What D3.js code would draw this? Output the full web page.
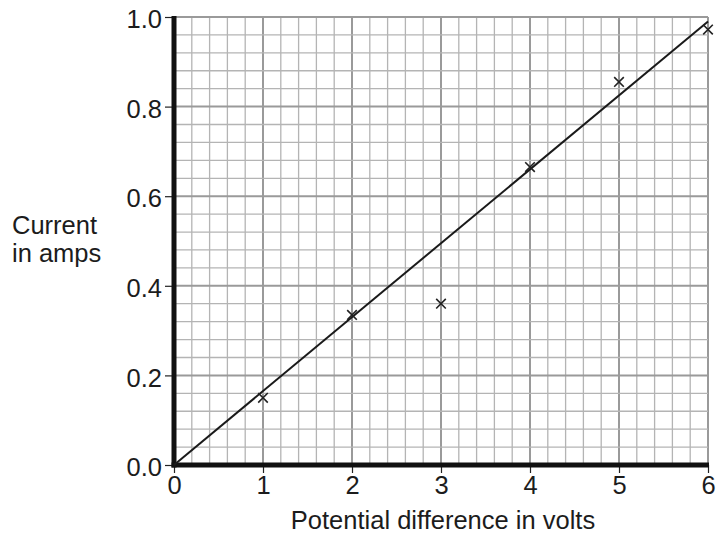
<!DOCTYPE html>
<html><head><meta charset="utf-8">
<script src="https://cdn.jsdelivr.net/npm/d3@7"></script>
<style>body{margin:0;background:#fff}svg{display:block}text{font-family:"Liberation Sans",Arial,sans-serif;fill:#1c1c1c}</style>
</head><body>
<script>
const voltage = [1, 2, 3, 4, 5, 6];
const current = [0.15, 0.335, 0.36, 0.665, 0.855, 0.972];
const xTicks = [0, 1, 2, 3, 4, 5, 6];
const yTicks = [0.0, 0.2, 0.4, 0.6, 0.8, 1.0];
const fitLine = [[0, 0], [6, 0.99]];
const xTitle = "Potential difference in volts";
const yTitle = ["Current", "in amps"];

const W = 718, H = 536;
const FS = "25.5px";
const svg = d3.select("body").append("svg").attr("width", W).attr("height", H);
const x = d3.scaleLinear().domain([0, 6]).range([174, 708]);
const y = d3.scaleLinear().domain([0, 1]).range([465, 17]);

const g = svg.append("g");
const xMinor = d3.range(0, 31).map(i => i * 0.2);
const yMinor = d3.range(0, 26).map(i => i * 0.04);
g.selectAll("line.vx").data(xMinor).join("line")
  .attr("x1", d => x(d)).attr("x2", d => x(d)).attr("y1", y(0)).attr("y2", y(1))
  .attr("stroke", (d, i) => i % 5 === 0 ? "#9a9a9a" : "#b4b4b4")
  .attr("stroke-width", (d, i) => i % 5 === 0 ? 2 : 1.3);
g.selectAll("line.hy").data(yMinor).join("line")
  .attr("x1", x(0)).attr("x2", x(6)).attr("y1", d => y(d)).attr("y2", d => y(d))
  .attr("stroke", (d, i) => i % 5 === 0 ? "#9a9a9a" : "#b4b4b4")
  .attr("stroke-width", (d, i) => i % 5 === 0 ? 2 : 1.3);

const xAxis = d3.axisBottom(x).tickValues(xTicks).tickFormat(d3.format("d")).tickSize(8).tickPadding(3);
const yAxis = d3.axisLeft(y).tickValues(yTicks).tickFormat(d3.format(".1f")).tickSize(9).tickPadding(3);
const gx = svg.append("g").attr("transform", `translate(0,${y(0)})`).call(xAxis);
const gy = svg.append("g").attr("transform", `translate(${x(0)},0)`).call(yAxis);
[gx, gy].forEach(a => {
  a.select(".domain").remove();
  a.selectAll(".tick line").attr("stroke", "#222").attr("stroke-width", 1.2);
  a.selectAll(".tick text").style("font-size", FS).attr("fill", "#1c1c1c");
});
gy.selectAll(".tick text").attr("dy", "0.42em");
gx.selectAll(".tick text").attr("dy", "0.72em");
svg.append("line").attr("x1", x(0)).attr("x2", x(0)).attr("y1", y(1) - 1).attr("y2", y(0) + 2.5)
  .attr("stroke", "#111").attr("stroke-width", 5);
svg.append("line").attr("x1", x(0) - 2.5).attr("x2", x(6) + 1).attr("y1", y(0)).attr("y2", y(0))
  .attr("stroke", "#111").attr("stroke-width", 5);

svg.append("path").datum(fitLine)
  .attr("d", d3.line().x(d => x(d[0])).y(d => y(d[1])))
  .attr("stroke", "#1a1a1a").attr("stroke-width", 2).attr("fill", "none");

const s = 4.8;
const pts = voltage.map((v, i) => [v, current[i]]);
svg.selectAll("path.pt").data(pts).join("path")
  .attr("d", d => {
    const cx = x(d[0]), cy = y(d[1]);
    return `M${cx - s},${cy - s}L${cx + s},${cy + s}M${cx - s},${cy + s}L${cx + s},${cy - s}`;
  })
  .attr("stroke", "#222").attr("stroke-width", 1.6).attr("fill", "none");

svg.append("text").attr("x", 443).attr("y", 529).attr("text-anchor", "middle")
  .style("font-size", FS).text(xTitle);
svg.append("text").attr("x", 12).attr("y", 234).style("font-size", FS).text(yTitle[0]);
svg.append("text").attr("x", 12).attr("y", 262).style("font-size", FS).text(yTitle[1]);
</script>
</body></html>
